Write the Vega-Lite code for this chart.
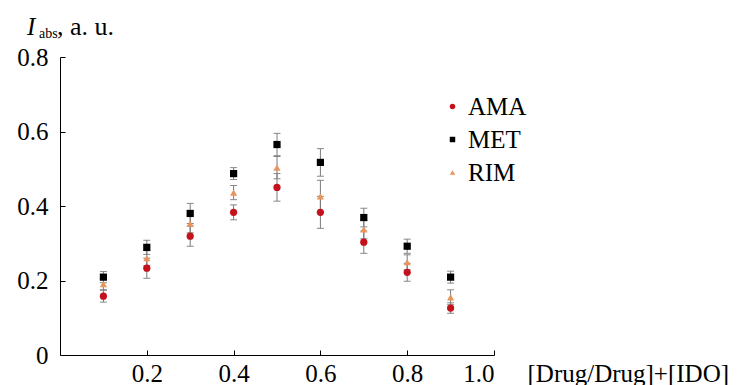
{
  "$schema": "https://vega.github.io/schema/vega-lite/v6.json",
  "width": 434,
  "height": 298,
  "autosize": "none",
  "padding": {"left": 60, "top": 57, "right": 250, "bottom": 30},
  "background": "white",
  "config": {"view": {"stroke": null}, "font": "Liberation Serif"},
  "data": {"values": [
    {"x": 0.1, "v": 0.158, "e": 0.016, "s": "AMA"},
    {"x": 0.2, "v": 0.233, "e": 0.027, "s": "AMA"},
    {"x": 0.3, "v": 0.319, "e": 0.027, "s": "AMA"},
    {"x": 0.4, "v": 0.383, "e": 0.02, "s": "AMA"},
    {"x": 0.5, "v": 0.45, "e": 0.037, "s": "AMA"},
    {"x": 0.6, "v": 0.383, "e": 0.043, "s": "AMA"},
    {"x": 0.7, "v": 0.303, "e": 0.03, "s": "AMA"},
    {"x": 0.8, "v": 0.222, "e": 0.024, "s": "AMA"},
    {"x": 0.9, "v": 0.126, "e": 0.014, "s": "AMA"},
    {"x": 0.1, "v": 0.209, "e": 0.015, "s": "MET"},
    {"x": 0.2, "v": 0.289, "e": 0.019, "s": "MET"},
    {"x": 0.3, "v": 0.38, "e": 0.027, "s": "MET"},
    {"x": 0.4, "v": 0.487, "e": 0.016, "s": "MET"},
    {"x": 0.5, "v": 0.565, "e": 0.03, "s": "MET"},
    {"x": 0.6, "v": 0.517, "e": 0.037, "s": "MET"},
    {"x": 0.7, "v": 0.369, "e": 0.025, "s": "MET"},
    {"x": 0.8, "v": 0.292, "e": 0.019, "s": "MET"},
    {"x": 0.9, "v": 0.209, "e": 0.016, "s": "MET"},
    {"x": 0.1, "v": 0.19, "e": 0.015, "s": "RIM"},
    {"x": 0.2, "v": 0.26, "e": 0.02, "s": "RIM"},
    {"x": 0.3, "v": 0.353, "e": 0.025, "s": "RIM"},
    {"x": 0.4, "v": 0.436, "e": 0.019, "s": "RIM"},
    {"x": 0.5, "v": 0.503, "e": 0.03, "s": "RIM"},
    {"x": 0.6, "v": 0.426, "e": 0.043, "s": "RIM"},
    {"x": 0.7, "v": 0.337, "e": 0.025, "s": "RIM"},
    {"x": 0.8, "v": 0.249, "e": 0.02, "s": "RIM"},
    {"x": 0.9, "v": 0.155, "e": 0.02, "s": "RIM"}
  ]},
  "layer": [
    {
      "mark": {"type": "errorbar", "ticks": {"size": 7, "color": "#555555"}, "rule": {"color": "#7a7a7a"}, "thickness": 1},
      "encoding": {
        "x": {"field": "x", "type": "quantitative", "scale": {"domain": [0, 1]},
          "axis": {"values": [0.2, 0.4, 0.6, 0.8, 1.0], "format": ".1f", "grid": false,
            "tickSize": -5, "labelPadding": 11, "labelFontSize": 25, "labelFont": "Liberation Serif",
            "labelColor": "#000000", "domainColor": "#000000", "tickColor": "#000000",
            "title": "[Drug/Drug]+[IDO]", "titleX": 467, "titleY": 26, "titleAlign": "left",
            "titleBaseline": "alphabetic", "titleFontWeight": "normal", "titleFontSize": 25,
            "titleFont": "Liberation Serif", "titleColor": "#000000"}},
        "y": {"field": "v", "type": "quantitative", "scale": {"domain": [0, 0.8]},
          "axis": {"values": [0, 0.2, 0.4, 0.6, 0.8],
            "labelExpr": "datum.value == 0 ? '0' : format(datum.value, '.1f')",
            "grid": false, "title": null, "tickSize": -5, "labelPadding": 17,
            "labelFontSize": 25, "labelFont": "Liberation Serif", "labelColor": "#000000",
            "domainColor": "#000000", "tickColor": "#000000"}},
        "yError": {"field": "e"},
        "detail": {"field": "s"}
      }
    },
    {
      "mark": {"type": "point", "filled": true, "opacity": 1, "size": 52},
      "encoding": {
        "x": {"field": "x", "type": "quantitative"},
        "y": {"field": "v", "type": "quantitative"},
        "color": {"field": "s", "type": "nominal",
          "scale": {"domain": ["AMA", "MET", "RIM"], "range": ["#c4121c", "#000000", "#e8945a"]},
          "legend": {"orient": "none", "legendX": 380, "legendY": 37, "title": null,
            "labelFontSize": 25, "labelFont": "Liberation Serif", "labelColor": "#000000",
            "symbolSize": 30, "rowPadding": 7, "labelOffset": 3}},
        "shape": {"field": "s", "type": "nominal",
          "scale": {"domain": ["AMA", "MET", "RIM"], "range": ["circle", "square", "triangle-up"]}}
      }
    },
    {
      "data": {"values": [{"t": "I"}]},
      "mark": {"type": "text", "fontSize": 25, "fontStyle": "italic", "font": "Liberation Serif", "align": "left", "baseline": "alphabetic", "dx": -33, "dy": -22, "color": "#000000"},
      "encoding": {"text": {"field": "t"}, "x": {"datum": 0}, "y": {"datum": 0.8}}
    },
    {
      "data": {"values": [{"t": "abs"}]},
      "mark": {"type": "text", "fontSize": 14, "font": "Liberation Serif", "align": "left", "baseline": "alphabetic", "dx": -21, "dy": -19, "color": "#000000"},
      "encoding": {"text": {"field": "t"}, "x": {"datum": 0}, "y": {"datum": 0.8}}
    },
    {
      "data": {"values": [{"t": ", a. u."}]},
      "mark": {"type": "text", "fontSize": 26, "font": "Liberation Serif", "align": "left", "baseline": "alphabetic", "dx": -3, "dy": -22, "color": "#000000"},
      "encoding": {"text": {"field": "t"}, "x": {"datum": 0}, "y": {"datum": 0.8}}
    }
  ]
}
